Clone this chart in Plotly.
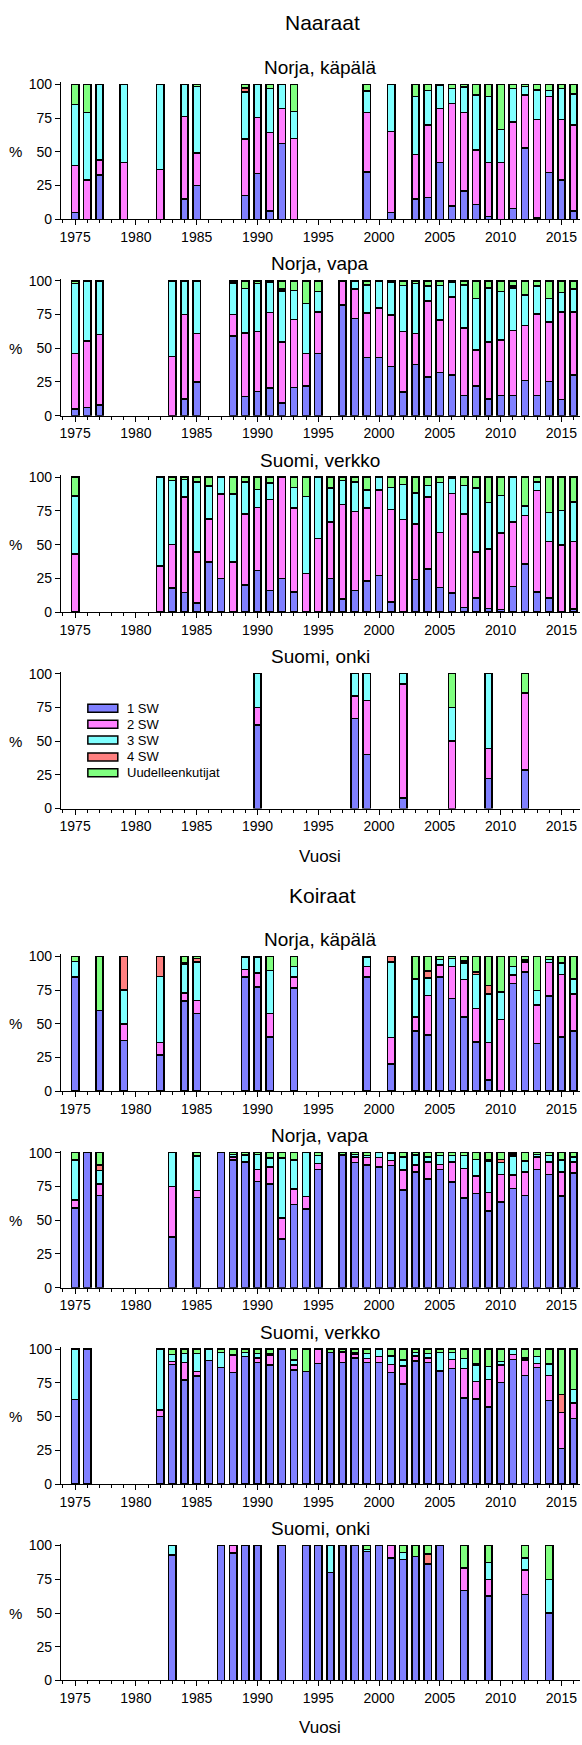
import plotly.graph_objects as go

# ---------------------------------------------------------------- data
SERIES = ["1 SW", "2 SW", "3 SW", "4 SW", "Uudelleenkutijat"]
COLORS = ["#8080FF", "#FF80FF", "#80FFFF", "#FF8080", "#80FF80"]

# Naaraat – Norja, käpälä
nf_nk_years = [1975, 1976, 1977, 1979, 1982, 1984, 1985, 1989, 1990, 1991, 1992, 1993, 1999, 2001,
               2003, 2004, 2005, 2006, 2007, 2008, 2009, 2010, 2011, 2012, 2013, 2014, 2015, 2016]
nf_nk_sw1 = [5, 0, 33, 0, 0, 15, 25, 17.6, 34, 6, 56, 0, 35, 5,
             15, 16, 42, 10, 21, 11, 2, 0, 8, 53, 1, 34.5, 29, 6]
nf_nk_sw2 = [35, 29, 11, 42, 37, 61, 24, 42, 41.5, 58.5, 26, 60, 44, 60,
             33, 54, 40, 76, 58, 40.5, 40, 42, 64, 39, 73, 56.5, 45, 64]
nf_nk_sw3 = [45, 50, 56, 58, 63, 24, 49.5, 34.8, 24.5, 32.3, 18, 20, 16, 35,
             43, 25.6, 17, 11, 19, 40.5, 49, 24.5, 25, 6.5, 22, 4.6, 22.8, 23]
nf_nk_sw4 = [0, 0, 0, 0, 0, 0, 0, 3, 0, 0, 0, 0, 0, 0,
             0, 0, 0, 0, 0, 0, 0, 0, 0, 0, 0, 0, 0, 0]
nf_nk_re = [15, 21, 0, 0, 0, 0, 1.5, 2.6, 0, 3.2, 0, 20, 5, 0,
            9, 4.4, 1, 3, 2, 8, 9, 33.5, 3, 1.5, 4, 4.4, 3.2, 7]

# Naaraat – Norja, vapa
nf_nv_years = [1975, 1976, 1977, 1983, 1984, 1985, 1988, 1989, 1990, 1991, 1992, 1993, 1994, 1995,
               1997, 1998, 1999, 2000, 2001, 2002, 2003, 2004, 2005, 2006, 2007, 2008, 2009, 2010,
               2011, 2012, 2013, 2014, 2015, 2016]
nf_nv_sw1 = [5, 6, 8, 0, 12.5, 25, 59, 14.4, 18, 20.5, 9.5, 21, 22, 46,
             82, 72, 43, 43, 36.5, 17.4, 38, 28.6, 32, 30, 15, 22, 12.5, 15,
             15, 26, 15, 25.4, 12, 30]
nf_nv_sw2 = [41, 49.5, 52, 44, 62.5, 36, 16, 47, 44.5, 56, 45, 50.4, 24, 31,
             18, 22, 33, 37, 38, 45, 23, 56.4, 39, 58, 50, 26.7, 42.3, 41,
             48.3, 41, 60.5, 44, 64.8, 47]
nf_nv_sw3 = [52, 44.5, 40, 56, 25, 39, 23.5, 33, 35.5, 22.5, 38, 21.3, 37, 15,
             0, 6, 21, 20, 24.5, 34, 37, 11.3, 25.6, 11, 32, 38, 39.5, 36,
             31.3, 22.5, 20.5, 17.6, 14.4, 17]
nf_nv_sw4 = [0, 0, 0, 0, 0, 0, 0, 0, 0, 0, 1.5, 0, 0, 0,
             0, 0, 0, 0, 0, 0, 0, 0, 0, 0, 0, 0, 0.5, 0,
             1.5, 0, 0, 0, 0, 0]
nf_nv_re = [2, 0, 0, 0, 0, 0, 1.5, 5.6, 2, 1, 6, 7.3, 17, 8,
            0, 0, 3, 0, 1, 3.6, 2, 3.7, 3.4, 1, 3, 13.3, 5.2, 8,
            3.9, 10.5, 4, 13, 8.8, 6]

# Naaraat – Suomi, verkko
nf_sv_years = [1975] + list(range(1982, 2017))
nf_sv_sw1 = [0, 0, 18, 14.7, 6.6, 37, 25, 0, 20, 31, 16, 25, 15, 0, 0, 25, 9.8, 16, 23, 27,
             7.4, 0.5, 24.3, 32, 18.4, 14, 3.4, 10.3, 2.7, 2, 19, 35.5, 15, 10.3, 0, 2.2]
nf_sv_sw2 = [43, 34, 32, 70.6, 38, 32, 62.5, 37, 52.8, 46.7, 67.6, 75, 62.2, 28.7, 54.4, 41.7,
             70, 58.5, 54.2, 63.4, 68.8, 68, 41, 53.3, 40.6, 74, 69.4, 34.1, 44.1, 56.8, 47.7,
             36.1, 75, 42.2, 49.8, 50.3]
nf_sv_sw3 = [43, 66, 47.5, 13, 51.7, 24.6, 12.5, 50.5, 23.8, 13.3, 12, 0, 15.2, 57, 45.6, 25.3,
             17.7, 22.1, 13.2, 9.6, 16.2, 25.9, 22.9, 8.7, 37, 11.2, 21.2, 47.6, 34.6, 27.5,
             33.3, 7.1, 6.6, 21.3, 25.4, 29]
nf_sv_sw4 = [0] * 36
nf_sv_re = [14, 0, 2.5, 1.7, 3.7, 6.4, 0, 12.5, 3.4, 9, 4.4, 0, 7.6, 14.3, 0, 8, 2.5, 3.4, 9.6,
            0, 7.6, 5.6, 11.8, 6, 4, 0.8, 6, 8, 18.6, 13.7, 0, 21.3, 3.4, 26.2, 24.8, 18.5]

# Naaraat – Suomi, onki
nf_so_years = [1990, 1998, 1999, 2002, 2006, 2009, 2012]
nf_so_sw1 = [62, 66.7, 40, 7.7, 0, 22.2, 28.6]
nf_so_sw2 = [13, 16.7, 40, 84.6, 50, 22.2, 57.1]
nf_so_sw3 = [25, 16.6, 20, 7.7, 25, 55.6, 0]
nf_so_sw4 = [0, 0, 0, 0, 0, 0, 0]
nf_so_re = [0, 0, 0, 0, 25, 0, 14.3]

# Koiraat – Norja, käpälä
nm_nk_years = [1975, 1977, 1979, 1982, 1984, 1985, 1989, 1990, 1991, 1993, 1999, 2001,
               2003, 2004, 2005, 2006, 2007, 2008, 2009, 2010, 2011, 2012, 2013, 2014, 2015, 2016]
nm_nk_sw1 = [84.6, 60, 37.5, 27, 66.7, 57.6, 84.6, 77.2, 40.2, 76.7, 84.6, 20.1,
             44.7, 41.8, 84.8, 68.8, 55, 36.6, 8.4, 0, 79.9, 88.2, 35.4, 70.5, 40.3, 44.7]
nm_nk_sw2 = [0, 0, 12.5, 9, 6, 9.8, 5.6, 10.3, 17.6, 8.1, 8, 19.7,
             10.3, 29.2, 8.6, 23.8, 27.8, 24.6, 27.7, 53.3, 6.1, 7.6, 28.5, 25.1, 46.2, 27.5]
nm_nk_sw3 = [11.7, 0, 25, 49, 21.5, 28.4, 9, 11.5, 31.7, 7.8, 6.4, 56,
             28.3, 13, 4.1, 5.7, 12.2, 25.3, 36.1, 20.4, 6.6, 1.5, 10.8, 1.9, 8.5, 11.1]
nm_nk_sw4 = [0, 0, 25, 15, 1, 2.5, 0, 0, 0, 0, 0, 4.2,
             0, 5, 0, 0, 1.5, 2, 6.2, 0, 0, 0, 0, 0, 0, 0]
nm_nk_re = [3.7, 40, 0, 0, 4.8, 1.7, 0.8, 1, 10.5, 7.4, 1, 0,
            16.7, 11, 2.5, 1.7, 3.5, 11.5, 21.6, 26.3, 7.4, 2.7, 25.3, 2.5, 5, 16.7]

# Koiraat – Norja, vapa
nm_nv_years = [1975, 1976, 1977, 1983, 1985, 1987, 1988, 1989, 1990, 1991, 1992, 1993, 1994, 1995,
               1997, 1998, 1999, 2000, 2001, 2002, 2003, 2004, 2005, 2006, 2007, 2008, 2009, 2010,
               2011, 2012, 2013, 2014, 2015, 2016]
nm_nv_sw1 = [59, 100, 68.2, 37.5, 66.7, 100, 94.6, 93, 78.8, 77, 36.2, 61.6, 58.4, 87.4,
             98.5, 92.6, 90.9, 89.4, 90.6, 72.4, 85.7, 80.5, 87.4, 78.3, 66.3, 69.7, 56.9, 63.3,
             73.4, 68.2, 87.4, 84, 68, 85]
nm_nv_sw2 = [6, 0, 8.8, 37.5, 5.3, 0, 2.2, 0, 8.9, 12.4, 15.3, 11.6, 9.1, 4.5,
             0, 4.4, 5.4, 6.9, 3.7, 14.8, 5.2, 12.8, 4, 14.8, 22.1, 13.1, 13.5, 20.7,
             10.1, 17.5, 9.6, 9.1, 17.7, 8.1]
nm_nv_sw3 = [29.7, 0, 10, 25, 25.5, 0, 2, 5.5, 11.1, 6.6, 44.1, 21.4, 32.5, 6.1,
             0, 1.8, 1.7, 3.7, 5, 9.8, 7.6, 3.7, 6.6, 4.9, 9.6, 12.2, 23.4, 8.6,
             14, 8.1, 1.8, 4.9, 8.9, 3.9]
nm_nv_sw4 = [0, 0, 4, 0, 0, 0, 0, 0, 0, 0, 0.7, 0, 0, 0,
             0, 0, 0, 0, 0, 0, 0, 0, 0, 0, 0, 0, 1, 2.4,
             1.5, 0, 0, 0, 0, 0]
nm_nv_re = [5.3, 0, 9, 0, 2.5, 0, 1.2, 1.5, 1.2, 4, 3.7, 5.4, 0, 2,
            1.5, 1.2, 2, 0, 0.7, 3, 1.5, 3, 2, 2, 2, 5, 5.2, 5,
            1, 6.2, 1.2, 2, 5.4, 3]

# Koiraat – Suomi, verkko
nm_sv_years = [1975, 1976] + list(range(1982, 2017))
nm_sv_sw1 = [62.5, 100, 50, 88.7, 77.2, 80, 91.4, 86.5, 82.8, 94.6, 90, 88.2, 100, 84.6, 83.3,
             89.5, 97.5, 90, 93.6, 90, 90, 82.8, 74.3, 91.2, 90, 83.3, 85.8, 63.7, 63, 57.1,
             75.2, 92.4, 80.4, 86.5, 62, 26.2, 48.5]
nm_sv_sw2 = [0, 0, 5, 2, 13, 3.3, 0, 0, 12.8, 0, 3.6, 7.4, 0, 3.6, 0,
             10.5, 0, 8, 2.5, 2.9, 4.4, 5.9, 13.2, 3.8, 3.6, 1, 6.6, 22.1, 13, 20.4,
             13, 3.6, 11.6, 3, 18.4, 27, 11.5]
nm_sv_sw3 = [37.5, 0, 45, 5.3, 6.6, 13.5, 8.6, 11, 0, 2.9, 3.2, 1.2, 0, 3.8, 0,
             0, 0, 0, 1, 3.9, 5.6, 6.3, 4.5, 2.5, 3.2, 13.2, 5.1, 7.3, 12.2, 9.5,
             2.5, 4, 1.6, 4.9, 8.6, 0, 9.9]
nm_sv_sw4 = [0, 0, 0, 0, 0, 0, 0, 0, 0, 0, 0, 0, 0, 0, 0,
             0, 0, 0, 0, 0, 0, 0, 0, 0, 0, 0, 0, 0, 1.3, 0,
             0, 0, 0, 0, 0, 13.2, 0]
nm_sv_re = [0, 0, 0, 4, 3.2, 3.2, 0, 2.5, 4.4, 2.5, 3.2, 3.2, 0, 8, 16.7,
            0, 2.5, 2, 2.9, 3.2, 0, 5, 8, 2.5, 3.2, 2.5, 2.5, 6.9, 10.5, 13,
            9.3, 0, 6.4, 5.6, 11, 33.6, 30.1]

# Koiraat – Suomi, onki
nm_so_years = [1983, 1987, 1988, 1989, 1990, 1992, 1994, 1995, 1996, 1997, 1998, 1999, 2000,
               2001, 2002, 2003, 2004, 2005, 2007, 2009, 2012, 2014]
nm_so_sw1 = [93, 100, 94.4, 100, 100, 100, 100, 100, 80, 100, 100, 95.5, 100,
             90.7, 89.5, 92, 86.3, 100, 66.7, 62.5, 63.6, 50]
nm_so_sw2 = [0, 0, 5.6, 0, 0, 0, 0, 0, 0, 0, 0, 0, 0,
             9.3, 0, 0, 0, 0, 16.6, 12.5, 18.2, 0]
nm_so_sw3 = [7, 0, 0, 0, 0, 0, 0, 0, 20, 0, 0, 1.5, 0,
             0, 5.3, 0, 0, 0, 0, 12.5, 9.1, 25]
nm_so_sw4 = [0, 0, 0, 0, 0, 0, 0, 0, 0, 0, 0, 0, 0,
             0, 0, 0, 7.6, 0, 0, 0, 0, 0]
nm_so_re = [0, 0, 0, 0, 0, 0, 0, 0, 0, 0, 0, 3, 0,
            0, 5.2, 8, 6.1, 0, 16.7, 12.5, 9.1, 25]

PANEL_TITLES = ["Norja, käpälä", "Norja, vapa", "Suomi, verkko", "Suomi, onki"] * 2
GROUP_TITLES = ["Naaraat", "Koiraat"]
X_TITLE = "Vuosi"
Y_TITLE = "%"
X_TICK_START, X_TICK_STEP = 1975, 5
Y_TICKS = [0, 25, 50, 75, 100]

panels = [
    (nf_nk_years, [nf_nk_sw1, nf_nk_sw2, nf_nk_sw3, nf_nk_sw4, nf_nk_re]),
    (nf_nv_years, [nf_nv_sw1, nf_nv_sw2, nf_nv_sw3, nf_nv_sw4, nf_nv_re]),
    (nf_sv_years, [nf_sv_sw1, nf_sv_sw2, nf_sv_sw3, nf_sv_sw4, nf_sv_re]),
    (nf_so_years, [nf_so_sw1, nf_so_sw2, nf_so_sw3, nf_so_sw4, nf_so_re]),
    (nm_nk_years, [nm_nk_sw1, nm_nk_sw2, nm_nk_sw3, nm_nk_sw4, nm_nk_re]),
    (nm_nv_years, [nm_nv_sw1, nm_nv_sw2, nm_nv_sw3, nm_nv_sw4, nm_nv_re]),
    (nm_sv_years, [nm_sv_sw1, nm_sv_sw2, nm_sv_sw3, nm_sv_sw4, nm_sv_re]),
    (nm_so_years, [nm_so_sw1, nm_so_sw2, nm_so_sw3, nm_so_sw4, nm_so_re]),
]

# ---------------------------------------------------------------- geometry (pixels)
W, H = 582, 1745
PLOT_L, PLOT_R = 60, 580
PANEL_TOPS = [79, 277, 475, 673, 958, 1156, 1354, 1552]   # y pixel of the 100 % line
PANEL_H = 136                                           # pixels from 0 % to 100 %
Y_MAX = 101.5
X_RANGE = [1973.83, 2016.53]
FONT = "Liberation Sans, Arial, sans-serif"


def py(px):
    return 1 - px / H


def px_x(px):
    return px / W


fig = go.Figure()

for i, (years, vals) in enumerate(panels):
    n = i + 1
    xa = "x" if n == 1 else f"x{n}"
    ya = "y" if n == 1 else f"y{n}"
    for s, v in enumerate(vals):
        fig.add_trace(go.Bar(
            x=years, y=v, name=SERIES[s], xaxis=xa, yaxis=ya,
            width=0.6, showlegend=False,
            marker=dict(color=COLORS[s], line=dict(color="black", width=1.5)),
        ))

    top = PANEL_TOPS[i]
    bottom = top + PANEL_H
    dom_top = top - (Y_MAX - 100) / 100 * PANEL_H
    axis_common = dict(showgrid=False, zeroline=False, showline=True,
                       linecolor="black", linewidth=1, ticks="outside",
                       tickcolor="black", tickwidth=1,
                       tickfont=dict(family=FONT, size=14, color="black"))
    fig.layout[f"xaxis{n if n > 1 else ''}"] = dict(
        domain=[px_x(PLOT_L), px_x(PLOT_R)], anchor=ya, range=X_RANGE,
        tickmode="linear", tick0=X_TICK_START, dtick=X_TICK_STEP, ticklen=5,
        minor=dict(ticks="outside", tick0=X_TICK_START, dtick=1, ticklen=3,
                   tickcolor="black", showgrid=False),
        **axis_common)
    fig.layout[f"yaxis{n if n > 1 else ''}"] = dict(
        domain=[py(bottom), py(dom_top)], anchor=xa, range=[0, Y_MAX],
        tickmode="array", tickvals=Y_TICKS, ticklen=5, **axis_common)

annotations = []
for i, title in enumerate(PANEL_TITLES):
    top = PANEL_TOPS[i]
    annotations.append(dict(text=title, x=px_x((PLOT_L + PLOT_R) / 2), y=py(top - 17),
                            xref="paper", yref="paper", showarrow=False,
                            xanchor="center", yanchor="middle",
                            font=dict(family=FONT, size=19, color="black")))
    annotations.append(dict(text=Y_TITLE, x=px_x(15), y=py(top + PANEL_H / 2),
                            xref="paper", yref="paper", showarrow=False,
                            xanchor="center", yanchor="middle",
                            font=dict(family=FONT, size=15, color="black")))

for title, ypx in zip(GROUP_TITLES, [17, 897]):
    annotations.append(dict(text=title, x=px_x(322), y=py(ypx), xref="paper", yref="paper",
                            showarrow=False, xanchor="center", yanchor="middle",
                            font=dict(family=FONT, size=21, color="black")))

for ypx in [857, 1735]:
    annotations.append(dict(text=X_TITLE, x=px_x((PLOT_L + PLOT_R) / 2), y=py(ypx),
                            xref="paper", yref="paper", showarrow=False,
                            xanchor="center", yanchor="middle",
                            font=dict(family=FONT, size=17, color="black")))

# legend inside the "Suomi, onki" panel of the first group
shapes = []
LEG_X0, LEG_X1, LEG_TXT = 87, 117, 124
LEG_ROWS = [708, 724, 740, 757, 773]
for s, ypx in enumerate(LEG_ROWS):
    shapes.append(dict(type="rect", xref="paper", yref="paper",
                       x0=px_x(LEG_X0), x1=px_x(LEG_X1), y0=py(ypx + 4), y1=py(ypx - 4),
                       fillcolor=COLORS[s], line=dict(color="black", width=1.5)))
    annotations.append(dict(text=SERIES[s], x=px_x(LEG_TXT), y=py(ypx), xref="paper",
                            yref="paper", showarrow=False, xanchor="left", yanchor="middle",
                            font=dict(family=FONT, size=13, color="black")))

fig.update_layout(
    width=W, height=H, margin=dict(l=0, r=0, t=0, b=0),
    barmode="stack", paper_bgcolor="white", plot_bgcolor="white",
    annotations=annotations, shapes=shapes, showlegend=False,
    font=dict(family=FONT, color="black"),
)

fig.write_html("out.html")
